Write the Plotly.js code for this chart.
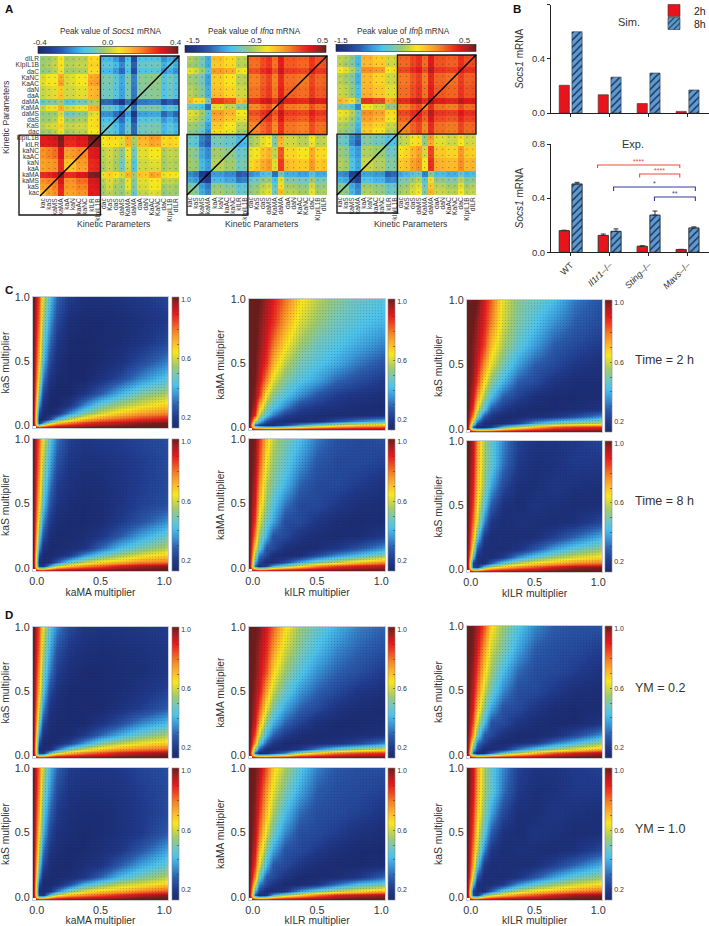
<!DOCTYPE html>
<html><head><meta charset="utf-8">
<script src="https://cdn.plot.ly/plotly-3.0.0.min.js"></script>
<style>html,body{margin:0;padding:0;background:#fff}#chart{width:709px;height:926px}</style>
</head><body><div id="chart"></div>
<script>
// ---------- Panel A: parameters (bottom-to-top on y, left-to-right on x)
const paramsX = ['kac','kaS','kaMS','kaMA','kaA','kaN','kaAC','kaNC','kILR','kIpIL1B','dac','KaS','daS','daMS','KaMA','daMA','daA','daN','KaAC','KaNC','daC','KIpIL1B','dILR'];
// lower triangles of the symmetric maps, in hundredths
const socs1Tri = [
[10],[15,16],[17,19,20],[28,29,31,38],[15,16,17,28,11],[15,16,17,28,11,11],
[17,19,21,31,15,16,18],[17,19,21,31,15,16,18,18],[30,30,31,38,28,28,30,30,38],[30,31,32,39,29,29,31,31,39,40],
[-3,-2,0,5,-2,-1,0,0,6,6,-10],
[0,2,3,9,1,1,2,2,7,8,-10,-10],
[-2,-2,0,7,-2,-2,-1,-1,7,8,-14,-14,-18],
[-4,-3,-3,3,-8,-8,-5,-5,3,4,-20,-20,-24,-30],
[1,5,5,13,2,3,5,5,13,14,-9,-9,-13,-19,-8],
[-10,-6,-6,-2,-12,-12,-8,-8,-2,-1,-25,-25,-29,-35,-24,-38],
[1,3,4,11,2,2,4,4,12,13,-8,-8,-12,-18,-7,-23,-6],
[1,3,4,10,2,2,4,4,12,13,-8,-8,-12,-18,-7,-23,-6,-6],
[4,6,6,15,3,4,6,6,15,16,-7,-7,-11,-17,-6,-22,-5,-5,-4],
[3,6,6,14,3,4,6,6,14,15,-7,-7,-11,-17,-6,-22,-5,-5,-4,-4],
[-4,-3,0,5,-2,-2,-1,-1,8,8,-15,-15,-19,-25,-14,-30,-13,-13,-12,-12,-20],
[-2,-1,1,7,0,0,1,1,9,9,-11,-11,-15,-21,-10,-26,-9,-9,-8,-8,-16,-12],
[-3,-2,0,6,-1,-1,0,0,8,8,-15,-15,-19,-25,-14,-30,-13,-13,-12,-12,-20,-16,-20]];
const ifnaTri = [
[-60],[-65,-70],[-92,-97,-124],[-102,-107,-134,-144],[-55,-60,-87,-97,-50],[-55,-60,-87,-97,-50,-50],
[-60,-65,-92,-102,-55,-55,-60],[-60,-65,-92,-102,-55,-55,-60,-60],[-75,-80,-107,-117,-70,-70,-75,-75,-90],[-72,-77,-104,-114,-67,-67,-72,-72,-87,-84],
[-60,-65,-75,-100,-30,-30,-38,-38,-55,-55,-4],
[-55,-60,-70,-95,-25,-25,-33,-33,-50,-50,-4,-4],
[-45,-50,-60,-85,-15,-15,-23,-23,-40,-40,4,4,12],
[-40,-45,-55,-80,-10,-10,-18,-18,-35,-35,10,10,18,24],
[-70,-75,-85,-110,-40,-40,-48,-48,-65,-65,-5,-5,3,9,-6],
[-20,-30,-40,-70,15,15,8,8,-20,-15,18,18,26,32,17,40],
[-50,-55,-65,-90,-20,-20,-28,-28,-45,-45,1,1,9,15,0,23,6],
[-50,-55,-65,-90,-22,-22,-28,-28,-45,-45,1,1,9,15,0,23,6,6],
[-55,-60,-70,-95,-25,-25,-33,-33,-50,-50,-2,-2,6,12,-3,20,3,3,0],
[-55,-60,-70,-95,-25,-25,-33,-33,-50,-50,-2,-2,6,12,-3,20,3,3,0,0],
[-38,-45,-55,-80,-10,-10,-15,-15,-38,-35,10,10,18,24,9,32,15,15,12,12,24],
[-55,-60,-70,-92,-25,-25,-30,-30,-50,-50,2,2,10,16,1,24,7,7,4,4,16,8],
[-52,-58,-68,-92,-22,-22,-30,-30,-48,-48,3,3,11,17,2,25,8,8,5,5,17,9,10]];
const ifnbTri = [
[-58],[-62,-66],[-88,-92,-118],[-100,-104,-130,-142],[-52,-56,-82,-94,-46],[-52,-56,-82,-94,-46,-46],
[-58,-62,-88,-98,-52,-52,-56],[-58,-62,-88,-98,-52,-52,-56,-56],[-72,-76,-102,-116,-66,-66,-72,-72,-86],[-70,-74,-100,-112,-64,-64,-70,-70,-84,-80],
[-55,-60,-68,-92,-25,-25,-32,-32,-50,-50,-2],
[-52,-56,-65,-88,-22,-22,-28,-28,-46,-46,-2,-2],
[-42,-46,-56,-80,-12,-12,-18,-18,-36,-36,6,6,14],
[-36,-40,-50,-75,-6,-6,-12,-12,-30,-30,12,12,20,26],
[-66,-70,-80,-105,-36,-36,-44,-44,-60,-60,-3,-3,5,11,-4],
[-18,-24,-30,-62,18,18,12,12,-15,-10,20,20,28,34,19,42],
[-46,-50,-60,-85,-16,-16,-24,-24,-40,-40,3,3,11,17,2,25,8],
[-46,-50,-60,-85,-18,-18,-24,-24,-40,-40,3,3,11,17,2,25,8,8],
[-50,-55,-65,-90,-20,-20,-28,-28,-45,-45,0,0,8,14,-1,22,5,5,2],
[-50,-55,-65,-90,-20,-20,-28,-28,-45,-45,0,0,8,14,-1,22,5,5,2,2],
[-34,-40,-50,-75,-6,-6,-10,-10,-34,-30,12,12,20,26,11,34,17,17,14,14,26],
[-50,-55,-65,-88,-20,-20,-25,-25,-45,-45,4,4,12,18,3,26,9,9,6,6,18,10],
[-48,-52,-62,-86,-18,-18,-26,-26,-44,-44,5,5,13,19,4,27,10,10,7,7,19,11,12]];

// ---------- Panel B
const genotypes = ['WT','<i>Il1r1</i>–/–','<i>Sting</i>–/–','<i>Mavs</i>–/–'];
const sim2h = [0.205,0.135,0.07,0.012];
const sim8h = [0.60,0.265,0.295,0.17];
const exp2h = [0.16,0.125,0.045,0.02];
const exp8h = [0.505,0.155,0.275,0.18];
const exp2hErr = [0.003,0.010,0.003,0.002];
const exp8hErr = [0.012,0.018,0.030,0.008];
const brackets = [
 {x:[0.69,0.69,2.80,2.80], y:[0.622,0.645,0.645,0.622], label:'****', c:'#ee4a3c'},
 {x:[1.77,1.77,2.80,2.80], y:[0.552,0.578,0.578,0.552], label:'****', c:'#ee4a3c'},
 {x:[1.10,1.10,3.20,3.20], y:[0.453,0.482,0.482,0.453], label:'*', c:'#343c9c'},
 {x:[2.15,2.15,3.20,3.20], y:[0.379,0.408,0.408,0.379], label:'**', c:'#343c9c'}];

// ---------- Panels C and D: surfaces on a coarse grid, hundredths
const gridX = [-0.03,0.02,0.05,0.1,0.16,0.25,0.37,0.5,0.65,0.82,1.03];
const gridY = [-0.02,0.02,0.05,0.1,0.16,0.25,0.37,0.5,0.65,0.82,1.0];
const edgeValue = 105;
const kaSkaMA_2h = [
[20,38,60,72,80,88,93,96,100,102],
[15,13,24,42,58,70,78,83,88,92],
[24,14,13,17,34,50,60,68,74,78],
[36,17,13,13,18,34,48,56,62,68],
[48,24,14,13,13,18,28,40,50,56],
[60,33,18,14,13,13,17,24,34,44],
[68,42,24,16,13,13,14,17,24,33],
[74,48,30,19,14,13,14,15,18,24],
[80,54,36,24,16,14,14,15,17,20],
[84,60,42,29,20,17,17,18,20,23]];
const kaSkaMA_8h = [
[20,18,42,60,70,78,84,92,97,100],
[15,14,16,28,46,58,66,71,77,80],
[24,14,14,15,20,35,46,55,62,68],
[36,17,14,14,15,18,30,42,50,58],
[46,26,15,14,14,15,19,28,38,48],
[58,35,20,15,14,14,15,20,26,35],
[66,44,26,18,15,14,15,18,22,25],
[72,50,32,21,17,15,16,18,21,24],
[78,56,38,26,19,17,17,19,21,24],
[82,62,44,31,22,19,20,21,23,25]];
const kaSkaMA_YM02 = [
[20,20,46,62,72,80,86,92,96,99],
[15,14,16,30,48,60,68,74,78,82],
[24,14,14,15,22,36,50,58,64,68],
[36,17,14,14,14,20,30,40,49,57],
[48,24,15,14,14,14,18,25,34,42],
[60,35,18,15,14,14,14,17,21,28],
[68,44,24,17,14,14,14,15,18,22],
[74,50,32,21,16,14,14,15,16,19],
[80,56,38,26,19,16,15,16,17,19],
[84,62,44,33,24,19,18,18,19,21]];
const kaSkaMA_YM10 = [
[20,18,46,62,72,78,84,90,96,100],
[15,14,18,32,50,62,68,72,78,84],
[24,14,14,15,24,40,50,58,62,68],
[36,16,14,14,15,19,30,42,50,58],
[46,24,15,14,14,16,18,28,38,47],
[56,32,18,15,14,14,16,19,27,38],
[64,40,23,17,15,14,15,17,20,28],
[70,46,29,20,16,15,15,17,20,24],
[76,52,35,24,18,17,17,18,21,24],
[80,58,40,29,21,19,19,20,23,25]];
const kaMAkILR_2h = [
[30,22,15,15,24,38,50,60,68,72],
[60,44,27,18,15,14,16,25,34,42],
[88,58,44,33,22,17,15,14,15,16],
[95,72,53,44,34,23,19,17,15,14],
[99,88,64,52,44,35,27,21,18,16],
[101,94,78,62,51,44,38,30,25,20],
[102,97,88,72,58,49,44,39,32,26],
[103,99,92,80,66,55,48,44,39,33],
[104,100,95,88,74,61,54,48,44,40],
[104,102,97,91,80,66,58,52,47,44]];
const kaMAkILR_8h = [
[30,16,22,40,52,65,78,86,92,96],
[40,24,15,15,24,38,50,58,68,76],
[54,32,24,16,14,15,24,34,42,52],
[64,46,27,24,17,14,15,19,26,36],
[77,54,40,26,24,18,15,14,15,20],
[86,62,48,38,25,24,19,15,14,15],
[91,70,54,44,32,24,24,20,16,15],
[95,77,58,50,41,29,24,24,21,17],
[98,84,64,54,46,36,27,24,24,22],
[100,88,70,58,50,42,32,26,24,25]];
const kaMAkILR_YM02 = [
[28,14,15,23,34,58,70,80,86,90],
[52,29,16,14,15,20,34,46,55,62],
[74,47,29,19,14,14,15,17,23,34],
[84,60,41,29,20,15,14,14,15,17],
[92,74,52,40,29,22,16,14,14,15],
[96,84,64,50,38,29,24,18,15,14],
[98,92,74,59,47,36,29,24,19,16],
[100,95,84,67,54,44,35,29,25,20],
[101,97,89,75,60,50,42,34,29,25],
[102,100,92,82,66,54,47,40,33,29]];
const kaMAkILR_YM10 = [
[28,14,18,40,56,68,80,90,95,98],
[42,24,15,14,18,36,48,58,64,72],
[62,34,24,18,14,14,18,30,42,48],
[76,48,28,24,18,14,14,15,19,30],
[86,62,42,27,24,19,15,14,14,15],
[92,72,52,38,26,24,20,16,14,14],
[96,81,62,48,34,25,24,21,17,15],
[98,87,70,56,42,30,25,24,22,18],
[100,92,76,62,50,38,28,25,24,22],
[101,97,84,68,56,44,33,27,25,25]];
const kaSkILR_2h = [
[28,14,15,22,44,60,72,83,88,90],
[54,28,16,14,15,22,38,48,54,58],
[76,50,28,19,14,14,15,18,24,34],
[86,62,44,28,20,15,14,14,15,18],
[93,76,55,42,28,22,16,14,14,15],
[97,86,66,52,40,28,24,18,15,15],
[99,92,76,62,49,37,28,24,19,16],
[100,96,86,70,56,46,37,28,24,20],
[102,98,90,78,60,50,43,35,28,24],
[104,102,92,82,62,52,48,42,32,26]];
const kaSkILR_8h = [
[24,19,46,60,70,78,84,92,98,100],
[22,16,16,28,46,58,66,71,77,80],
[44,17,16,15,20,35,46,55,61,66],
[60,27,15,16,15,18,27,38,47,54],
[72,45,20,15,16,15,16,22,30,40],
[80,60,34,19,15,17,16,15,17,24],
[86,66,45,28,17,15,18,17,15,16],
[90,71,53,38,24,16,16,19,17,16],
[93,74,55,46,31,20,16,17,20,19],
[95,76,56,46,34,22,18,18,20,23]];
const kaSkILR_YM02 = [
[28,14,17,30,46,60,72,84,92,98],
[42,24,15,14,18,32,44,54,62,72],
[60,34,24,17,14,14,18,30,40,52],
[74,48,28,24,17,14,14,16,24,36],
[84,60,42,26,24,18,15,14,14,18],
[90,72,52,38,26,24,19,15,14,15],
[94,80,60,48,34,25,24,20,16,15],
[97,86,68,55,42,30,25,24,21,17],
[100,92,75,60,50,38,28,25,24,21],
[101,96,84,66,54,44,34,28,26,26]];
const kaSkILR_YM10 = [
[24,19,46,60,70,78,84,92,98,100],
[22,16,16,28,46,58,66,71,77,82],
[44,17,16,15,20,35,46,54,60,66],
[60,27,15,16,15,18,27,38,47,54],
[72,45,20,15,16,15,16,22,30,40],
[78,58,34,19,15,17,16,15,17,24],
[84,64,45,28,17,15,18,17,15,16],
[88,70,52,38,24,16,16,19,17,16],
[92,74,55,46,31,20,16,17,20,19],
[94,76,56,46,34,22,18,18,20,22]];

// ---------- layout constants
const W = 709, H = 926;
const fx = p => p/W, fy = p => 1-p/H;
const FONT = '"Liberation Sans", Arial, sans-serif';
const INK = '#333';
const jet = [[0,'#1b2a6e'],[0.08,'#203a8c'],[0.17,'#2b5cae'],[0.26,'#3a9ada'],[0.33,'#4cc3ec'],[0.40,'#74c7bc'],[0.47,'#9ecb6e'],[0.53,'#d3d83e'],[0.58,'#f8e71c'],[0.66,'#fdb42c'],[0.74,'#f68222'],[0.82,'#ee3e22'],[0.88,'#e2181c'],[0.94,'#a81f20'],[1,'#6b1d1c']];

const legendItem = py => ({x:fx(654),y:fy(py),xanchor:'left',yanchor:'middle',bgcolor:'rgba(0,0,0,0)',font:{size:10.5,color:'#222'},itemwidth:30,tracegroupgap:0});
const traces = [], layout = {
  width:W, height:H, margin:{l:0,r:0,t:0,b:0,autoexpand:false}, paper_bgcolor:'#fff', plot_bgcolor:'#fff',
  font:{family:FONT,color:INK,size:10}, barmode:'group', bargap:0.346, bargroupgap:0.2,
  annotations:[], shapes:[], legend:legendItem(10.5), legend2:legendItem(23.5)
};
let axisId = 0;
function newAxes(px0,px1,py0,py1){
  axisId++;
  const s = axisId===1?'':axisId;
  return {xKey:'xaxis'+s,yKey:'yaxis'+s,x:'x'+s,y:'y'+s,xDom:[fx(px0),fx(px1)],yDom:[fy(py1),fy(py0)]};
}
function note(text,px,py,size,opts){
  layout.annotations.push(Object.assign({text,x:fx(px),y:fy(py),xref:'paper',yref:'paper',showarrow:false,xanchor:'center',yanchor:'middle',font:{size,color:INK,family:FONT}},opts||{}));
}
function pxLine(x0,y0,x1,y1,width,color){
  layout.shapes.push({type:'line',xref:'paper',yref:'paper',x0:fx(x0),y0:fy(y0),x1:fx(x1),y1:fy(y1),line:{width,color}});
}
function pxRect(x0,y0,x1,y1,width,color){
  layout.shapes.push({type:'rect',xref:'paper',yref:'paper',x0:fx(x0),y0:fy(y0),x1:fx(x1),y1:fy(y1),line:{width,color}});
}

// ---------- Panel A
const mirror = tri => paramsX.map((_,r)=>paramsX.map((_,c)=>(r>=c?tri[r][c]:tri[c][r])/100));
const cellX = [], cellY = [];
paramsX.forEach(a=>paramsX.forEach(b=>{cellX.push(a);cellY.push(b);}));
function corrMap(cfg){
  const a = newAxes(cfg.l,cfg.r,cfg.t,cfg.b);
  layout[a.xKey] = {domain:a.xDom,anchor:a.y,type:'category',categoryorder:'array',categoryarray:paramsX,range:[-0.5,22.5],tickmode:'array',tickvals:paramsX,ticktext:paramsX,tickangle:-90,tickfont:{size:6.6,color:INK},ticks:'',showgrid:false,zeroline:false,showline:false};
  layout[a.yKey] = {domain:a.yDom,anchor:a.x,type:'category',categoryorder:'array',categoryarray:paramsX,range:[-0.5,22.5],tickmode:'array',tickvals:paramsX,ticktext:paramsX,showticklabels:!!cfg.ylabels,tickfont:{size:6.6,color:INK},ticks:'',showgrid:false,zeroline:false,showline:false};
  traces.push({type:'heatmap',x:paramsX,y:paramsX,z:mirror(cfg.tri),xaxis:a.x,yaxis:a.y,zmin:cfg.zmin,zmax:cfg.zmax,colorscale:jet,hoverinfo:'skip',
    colorbar:{orientation:'h',x:fx(cfg.cb[0]),xanchor:'left',y:fy(cfg.cb[3]),yanchor:'bottom',lenmode:'pixels',len:cfg.cb[1]-cfg.cb[0],thicknessmode:'pixels',thickness:cfg.cb[3]-cfg.cb[2],xpad:0,ypad:0,outlinewidth:0.6,outlinecolor:'#222',showticklabels:false,ticks:''}});
  traces.push({type:'scatter',mode:'markers',x:cellX,y:cellY,xaxis:a.x,yaxis:a.y,marker:{size:1.1,color:'rgba(40,40,40,0.55)'},hoverinfo:'skip',showlegend:false});
  // boxes and diagonal
  const mx = cfg.l+(cfg.r-cfg.l)*10/23, my = cfg.t+(cfg.b-cfg.t)*13/23;
  pxRect(mx,cfg.t,cfg.r,my,1.4,'#1a1a1a');
  pxRect(cfg.boxL,my,mx,cfg.boxB,1.4,'#1a1a1a');
  pxLine(cfg.l,cfg.b,cfg.r,cfg.t,1.4,'#000');
  note(cfg.title,cfg.titleX,cfg.titleY,8.2);
  note('Kinetic Parameters',cfg.xtX,224,8.7);
  cfg.cbLabels.forEach(([t,x])=>note(t,x,cfg.cbLabelY,8));
}
corrMap({l:40,r:179,t:56,b:196,cb:[38,178,47,54],tri:socs1Tri,zmin:-0.4,zmax:0.4,ylabels:true,boxL:19,boxB:215,title:'Peak value of <i>Socs1</i> mRNA',titleX:111,titleY:32,xtX:114,cbLabels:[['-0.4',40],['0.0',108],['0.4',176]],cbLabelY:42});
corrMap({l:187,r:327,t:56,b:195,cb:[185,326,46,53],tri:ifnaTri,zmin:-1.5,zmax:0.5,boxL:187,boxB:215,title:'Peak value of <i>Ifn</i>α mRNA',titleX:254,titleY:32,xtX:262,cbLabels:[['-1.5',193],['-0.5',255],['0.5',323]],cbLabelY:41});
corrMap({l:337,r:476,t:55,b:195,cb:[336,476,45,52],tri:ifnbTri,zmin:-1.5,zmax:0.5,boxL:337,boxB:213,title:'Peak value of <i>Ifn</i>β mRNA',titleX:403,titleY:31,xtX:411,cbLabels:[['-1.5',341],['-0.5',404],['0.5',465]],cbLabelY:40});
note('Kinetic Parameters',6,117,8.7,{textangle:-90});

// ---------- Panel B
const RED='#e8141c', BLUE='#5b9bd5', HATCH='#1d2b45';
function barPanel(py0,py1,v2,v8,e2,e8,showX,legend){
  const a = newAxes(551,709,py0,py1);
  layout[a.xKey] = {domain:a.xDom,anchor:a.y,type:'linear',range:[-0.505,3.55],tickmode:'array',tickvals:[0,1,2,3],ticktext:showX?genotypes:['','','',''],tickangle:-45,tickfont:{size:9,color:INK},ticks:'outside',ticklen:3,tickwidth:1,tickcolor:'#222',showline:true,linecolor:'#222',linewidth:1,showgrid:false,zeroline:false};
  layout[a.yKey] = {domain:a.yDom,anchor:a.x,range:[0,0.8],tickmode:'array',tickvals:[0,0.4,0.8],ticktext:['0.0','0.4','0.8'],tickfont:{size:9.5,color:INK},ticks:'outside',ticklen:3,tickwidth:1,tickcolor:'#222',showline:true,linecolor:'#222',linewidth:1,showgrid:false,zeroline:false,
    title:{text:'<i>Socs1</i> mRNA',font:{size:10,color:INK},standoff:6}};
  const ol = {width:e2?1:0.6,color:'#333'};
  traces.push({type:'bar',name:'2h',x:[0,1,2,3],y:v2,xaxis:a.x,yaxis:a.y,marker:{color:RED,line:ol},showlegend:legend,legend:'legend',hoverinfo:'skip',
    error_y:e2?{type:'data',symmetric:false,array:e2,arrayminus:[0,0,0,0],thickness:1,width:2.5,color:'#333'}:undefined});
  traces.push({type:'bar',name:'8h',x:[0,1,2,3],y:v8,xaxis:a.x,yaxis:a.y,marker:{color:BLUE,line:ol,pattern:{shape:'/',bgcolor:BLUE,fgcolor:HATCH,size:5,solidity:0.28}},showlegend:legend,legend:'legend2',hoverinfo:'skip',
    error_y:e8?{type:'data',symmetric:false,array:e8,arrayminus:[0,0,0,0],thickness:1,width:2.5,color:'#333'}:undefined});
  return a;
}
barPanel(4.7,113,sim2h,sim8h,null,null,false,true);
const expAx = barPanel(144,252.3,exp2h,exp8h,exp2hErr,exp8hErr,true,false);
brackets.forEach(b=>{
  traces.push({type:'scatter',mode:'lines',x:b.x,y:b.y,xaxis:expAx.x,yaxis:expAx.y,line:{color:b.c,width:1.1},hoverinfo:'skip',showlegend:false,cliponaxis:false});
  layout.annotations.push({text:b.label,x:(b.x[0]+b.x[2])/2,y:b.y[1],xref:expAx.x,yref:expAx.y,showarrow:false,yanchor:'bottom',yshift:-2,font:{size:7,color:b.c,family:FONT}});
});
note('Sim.',629,22,11);
note('Exp.',633,144,11);

// ---------- Panels C, D
const dotAxis = []; for(let i=1;i<45;i++) dotAxis.push(i/44);
const dotX = [], dotY = [];
dotAxis.forEach(u=>dotAxis.forEach(v=>{dotX.push(u);dotY.push(v);}));
const cbVals = [0.2,0.3,0.4,0.5,0.6,0.7,0.8,0.9,1.0];
const cbText = ['0.2','','','','0.6','','','','1.0'];
function surface(cfg){
  const a = newAxes(cfg.l,cfg.r,cfg.t,cfg.b);
  layout[a.xKey] = {domain:a.xDom,anchor:a.y,range:[-0.03,1.03],tickmode:'array',tickvals:[0,0.5,1],ticktext:['0.0','0.5','1.0'],showticklabels:!!cfg.xTitle,tickfont:{size:10.8,color:INK},ticks:'',showgrid:false,zeroline:false,showline:true,mirror:true,linecolor:'#c9ccd4',linewidth:1,
    title:cfg.xTitle?{text:cfg.xTitle,font:{size:10.3,color:INK},standoff:1}:undefined};
  layout[a.yKey] = {domain:a.yDom,anchor:a.x,range:[-0.02,1],tickmode:'array',tickvals:[0,0.5,1],ticktext:['0.0','0.5','1.0'],tickfont:{size:10.8,color:INK},ticks:'',showgrid:false,zeroline:false,showline:true,mirror:true,linecolor:'#c9ccd4',linewidth:1,
    title:{text:cfg.yTitle,font:{size:10.3,color:INK},standoff:4}};
  const z = [gridX.map(()=>edgeValue/100)].concat(cfg.rows.map(r=>[edgeValue/100].concat(r.map(v=>v/100))));
  z[0][0] = null; // the unsampled origin cell is blank in the reference
  traces.push({type:'heatmap',x:gridX,y:gridY,z,xaxis:a.x,yaxis:a.y,zsmooth:'best',zmin:0.13,zmax:1.02,colorscale:jet,hoverinfo:'skip',
    colorbar:{x:fx(cfg.cbx),xanchor:'left',y:fy(cfg.t),yanchor:'top',lenmode:'pixels',len:cfg.b-cfg.t,thicknessmode:'pixels',thickness:7,xpad:0,ypad:0,outlinewidth:0.6,outlinecolor:'#888',tickmode:'array',tickvals:cbVals,ticktext:cbText,ticks:'inside',ticklen:2,tickwidth:0.6,tickcolor:'#333',tickfont:{size:7,color:INK}}});
  traces.push({type:'scatter',mode:'markers',x:dotX,y:dotY,xaxis:a.x,yaxis:a.y,marker:{size:1,color:'rgba(30,30,50,0.3)'},hoverinfo:'skip',showlegend:false});
}
const cols = [
 {l:33,r:168,cbx:172,yTitle:'kaS multiplier',xTitle:'kaMA multiplier',rows:[[297,428],[439,571],[627,758],[768,900]]},
 {l:249,r:385,cbx:388,yTitle:'kaMA multiplier',xTitle:'kILR multiplier',rows:[[299,430],[439,571],[627,758],[768,900]]},
 {l:467,r:602,cbx:605,yTitle:'kaS multiplier',xTitle:'kILR multiplier',rows:[[300,432],[441,572],[626,758],[768,900]]}];
const panelData = [
 [kaSkaMA_2h,kaMAkILR_2h,kaSkILR_2h],
 [kaSkaMA_8h,kaMAkILR_8h,kaSkILR_8h],
 [kaSkaMA_YM02,kaMAkILR_YM02,kaSkILR_YM02],
 [kaSkaMA_YM10,kaMAkILR_YM10,kaSkILR_YM10]];
panelData.forEach((row,ri)=>cols.forEach((c,ci)=>surface({l:c.l,r:c.r,t:c.rows[ri][0],b:c.rows[ri][1],cbx:c.cbx,yTitle:c.yTitle,xTitle:(ri%2===1)?c.xTitle:null,rows:row[ci]})));
note('Time = 2 h',633,360,12.5,{xanchor:'left'});
note('Time = 8 h',633,501,12.5,{xanchor:'left'});
note('YM = 0.2',633,688,12.5,{xanchor:'left'});
note('YM = 1.0',633,829,12.5,{xanchor:'left'});

// ---------- Panel letters
[['A',9,9],['B',517,9],['C',9,290],['D',9,615]].forEach(([t,x,y])=>note('<b>'+t+'</b>',x,y,11.5,{font:{size:11.5,color:'#111',family:FONT}}));

Plotly.newPlot('chart',traces,layout,{displayModeBar:false,staticPlot:true});
</script></body></html>
